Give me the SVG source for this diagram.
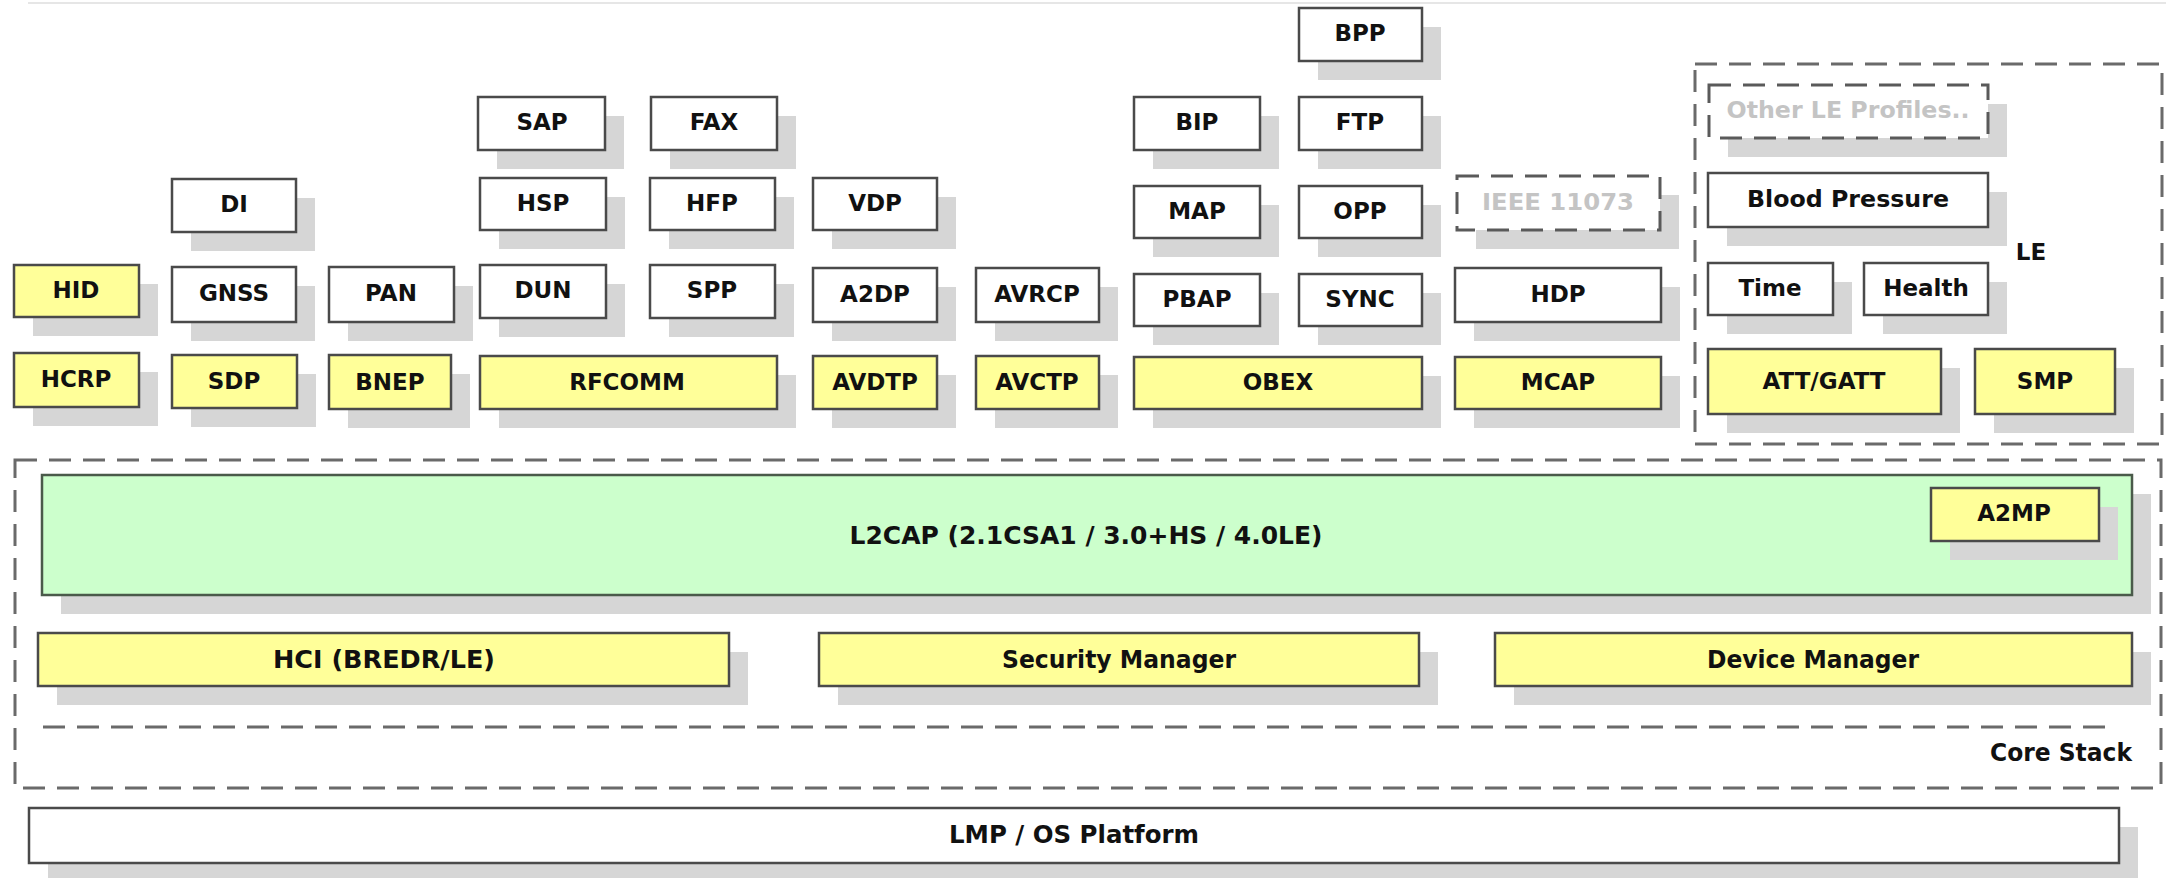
<svg xmlns="http://www.w3.org/2000/svg" width="2166" height="878" viewBox="0 0 2166 878">
  <style>
    .sh { fill: #d6d6d6; }
    .y { fill: #ffff99; stroke: #4a4a4a; stroke-width: 2.5; }
    .w { fill: #ffffff; stroke: #4a4a4a; stroke-width: 2.5; }
    .g { fill: #ccffcc; stroke: #4a5a4a; stroke-width: 2.5; }
    .dw { fill: #ffffff; stroke: #5a5a5a; stroke-width: 3; stroke-dasharray: 22 12; }
    .frame { fill: none; stroke: #6a6a6a; stroke-width: 3; stroke-dasharray: 22 12; }
    .t { font-family: "DejaVu Sans", Verdana, sans-serif; font-weight: bold; font-size: 23px; fill: #111111; text-anchor: middle; }
    .tl { font-family: "DejaVu Sans", Verdana, sans-serif; font-weight: bold; font-size: 24px; fill: #111111; text-anchor: middle; }
    .tg { font-family: "DejaVu Sans", Verdana, sans-serif; font-weight: bold; font-size: 23px; fill: #c4c4c4; text-anchor: middle; }
  </style>

  <rect width="2166" height="878" fill="#ffffff"/>
  <line x1="28" y1="3" x2="2166" y2="3" stroke="#e6e6e6" stroke-width="2"/>

  <!-- dashed groupings -->
  <g id="le-frame">
    <rect class="frame" x="1695" y="64" width="467" height="380"/>
    <text class="t" x="2031" y="260">LE</text>
  </g>
  <g id="core-stack-frame">
    <rect class="frame" x="15" y="460" width="2146" height="328"/>
    <line class="frame" x1="43" y1="727" x2="2110" y2="727"/>
    <text class="tl" x="2132" y="761" style="text-anchor:end" textLength="142" lengthAdjust="spacingAndGlyphs">Core Stack</text>
  </g>

  <!-- profiles and protocols -->
  <g id="hid"><rect class="sh" x="33" y="284" width="125" height="52"/><rect class="y" x="14" y="265" width="125" height="52"/><text class="t" x="76" y="298">HID</text></g>
  <g id="hcrp"><rect class="sh" x="33" y="372" width="125" height="54"/><rect class="y" x="14" y="353" width="125" height="54"/><text class="t" x="76" y="387">HCRP</text></g>
  <g id="di"><rect class="sh" x="191" y="198" width="124" height="53"/><rect class="w" x="172" y="179" width="124" height="53"/><text class="t" x="234" y="212">DI</text></g>
  <g id="gnss"><rect class="sh" x="191" y="286" width="124" height="55"/><rect class="w" x="172" y="267" width="124" height="55"/><text class="t" x="234" y="301">GNSS</text></g>
  <g id="sdp"><rect class="sh" x="191" y="374" width="125" height="53"/><rect class="y" x="172" y="355" width="125" height="53"/><text class="t" x="234" y="389">SDP</text></g>
  <g id="pan"><rect class="sh" x="348" y="286" width="125" height="55"/><rect class="w" x="329" y="267" width="125" height="55"/><text class="t" x="391" y="301">PAN</text></g>
  <g id="bnep"><rect class="sh" x="348" y="374" width="122" height="54"/><rect class="y" x="329" y="355" width="122" height="54"/><text class="t" x="390" y="390">BNEP</text></g>
  <g id="sap"><rect class="sh" x="497" y="116" width="127" height="53"/><rect class="w" x="478" y="97" width="127" height="53"/><text class="t" x="542" y="130">SAP</text></g>
  <g id="hsp"><rect class="sh" x="499" y="197" width="126" height="52"/><rect class="w" x="480" y="178" width="126" height="52"/><text class="t" x="543" y="211">HSP</text></g>
  <g id="dun"><rect class="sh" x="499" y="284" width="126" height="53"/><rect class="w" x="480" y="265" width="126" height="53"/><text class="t" x="543" y="298">DUN</text></g>
  <g id="fax"><rect class="sh" x="670" y="116" width="126" height="53"/><rect class="w" x="651" y="97" width="126" height="53"/><text class="t" x="714" y="130">FAX</text></g>
  <g id="hfp"><rect class="sh" x="669" y="197" width="125" height="52"/><rect class="w" x="650" y="178" width="125" height="52"/><text class="t" x="712" y="211">HFP</text></g>
  <g id="spp"><rect class="sh" x="669" y="284" width="125" height="53"/><rect class="w" x="650" y="265" width="125" height="53"/><text class="t" x="712" y="298">SPP</text></g>
  <g id="rfcomm"><rect class="sh" x="499" y="375" width="297" height="53"/><rect class="y" x="480" y="356" width="297" height="53"/><text class="t" x="627" y="390">RFCOMM</text></g>
  <g id="vdp"><rect class="sh" x="832" y="197" width="124" height="52"/><rect class="w" x="813" y="178" width="124" height="52"/><text class="t" x="875" y="211">VDP</text></g>
  <g id="a2dp"><rect class="sh" x="832" y="287" width="124" height="54"/><rect class="w" x="813" y="268" width="124" height="54"/><text class="t" x="875" y="302">A2DP</text></g>
  <g id="avdtp"><rect class="sh" x="832" y="375" width="124" height="53"/><rect class="y" x="813" y="356" width="124" height="53"/><text class="t" x="875" y="390">AVDTP</text></g>
  <g id="avrcp"><rect class="sh" x="995" y="287" width="123" height="54"/><rect class="w" x="976" y="268" width="123" height="54"/><text class="t" x="1037" y="302">AVRCP</text></g>
  <g id="avctp"><rect class="sh" x="995" y="375" width="123" height="53"/><rect class="y" x="976" y="356" width="123" height="53"/><text class="t" x="1037" y="390">AVCTP</text></g>
  <g id="bpp"><rect class="sh" x="1318" y="27" width="123" height="53"/><rect class="w" x="1299" y="8" width="123" height="53"/><text class="t" x="1360" y="41">BPP</text></g>
  <g id="bip"><rect class="sh" x="1153" y="116" width="126" height="53"/><rect class="w" x="1134" y="97" width="126" height="53"/><text class="t" x="1197" y="130">BIP</text></g>
  <g id="ftp"><rect class="sh" x="1318" y="116" width="123" height="53"/><rect class="w" x="1299" y="97" width="123" height="53"/><text class="t" x="1360" y="130">FTP</text></g>
  <g id="map"><rect class="sh" x="1153" y="205" width="126" height="52"/><rect class="w" x="1134" y="186" width="126" height="52"/><text class="t" x="1197" y="219">MAP</text></g>
  <g id="opp"><rect class="sh" x="1318" y="205" width="123" height="52"/><rect class="w" x="1299" y="186" width="123" height="52"/><text class="t" x="1360" y="219">OPP</text></g>
  <g id="pbap"><rect class="sh" x="1153" y="293" width="126" height="52"/><rect class="w" x="1134" y="274" width="126" height="52"/><text class="t" x="1197" y="307">PBAP</text></g>
  <g id="sync"><rect class="sh" x="1318" y="293" width="123" height="52"/><rect class="w" x="1299" y="274" width="123" height="52"/><text class="t" x="1360" y="307">SYNC</text></g>
  <g id="obex"><rect class="sh" x="1153" y="376" width="288" height="52"/><rect class="y" x="1134" y="357" width="288" height="52"/><text class="t" x="1278" y="390">OBEX</text></g>
  <g id="ieee11073"><rect class="sh" x="1476" y="195" width="203" height="54"/><rect class="dw" x="1457" y="176" width="203" height="54"/><text class="tg" x="1558" y="210" textLength="152" lengthAdjust="spacingAndGlyphs">IEEE 11073</text></g>
  <g id="hdp"><rect class="sh" x="1474" y="287" width="206" height="54"/><rect class="w" x="1455" y="268" width="206" height="54"/><text class="t" x="1558" y="302">HDP</text></g>
  <g id="mcap"><rect class="sh" x="1474" y="376" width="206" height="52"/><rect class="y" x="1455" y="357" width="206" height="52"/><text class="t" x="1558" y="390">MCAP</text></g>
  <g id="other-le-profiles"><rect class="sh" x="1728" y="104" width="279" height="53"/><rect class="dw" x="1709" y="85" width="279" height="53"/><text class="tg" x="1848" y="118" textLength="243" lengthAdjust="spacingAndGlyphs">Other LE Profiles..</text></g>
  <g id="blood-pressure"><rect class="sh" x="1727" y="192" width="280" height="54"/><rect class="w" x="1708" y="173" width="280" height="54"/><text class="t" x="1848" y="207" textLength="202" lengthAdjust="spacingAndGlyphs">Blood Pressure</text></g>
  <g id="time"><rect class="sh" x="1727" y="282" width="125" height="52"/><rect class="w" x="1708" y="263" width="125" height="52"/><text class="t" x="1770" y="296">Time</text></g>
  <g id="health"><rect class="sh" x="1883" y="282" width="124" height="52"/><rect class="w" x="1864" y="263" width="124" height="52"/><text class="t" x="1926" y="296">Health</text></g>
  <g id="att-gatt"><rect class="sh" x="1727" y="368" width="233" height="65"/><rect class="y" x="1708" y="349" width="233" height="65"/><text class="t" x="1824" y="389">ATT/GATT</text></g>
  <g id="smp"><rect class="sh" x="1994" y="368" width="140" height="65"/><rect class="y" x="1975" y="349" width="140" height="65"/><text class="t" x="2045" y="389">SMP</text></g>

  <!-- core stack -->
  <g id="l2cap"><rect class="sh" x="61" y="494" width="2090" height="120"/><rect class="g" x="42" y="475" width="2090" height="120"/><text class="tl" x="1086" y="544" textLength="473" lengthAdjust="spacingAndGlyphs">L2CAP (2.1CSA1 / 3.0+HS / 4.0LE)</text></g>
  <g id="a2mp"><rect class="sh" x="1950" y="507" width="168" height="53"/><rect class="y" x="1931" y="488" width="168" height="53"/><text class="t" x="2014" y="521">A2MP</text></g>
  <g id="hci"><rect class="sh" x="57" y="652" width="691" height="53"/><rect class="y" x="38" y="633" width="691" height="53"/><text class="tl" x="384" y="668" textLength="222" lengthAdjust="spacingAndGlyphs">HCI (BREDR/LE)</text></g>
  <g id="security-manager"><rect class="sh" x="838" y="652" width="600" height="53"/><rect class="y" x="819" y="633" width="600" height="53"/><text class="tl" x="1119" y="668" textLength="234" lengthAdjust="spacingAndGlyphs">Security Manager</text></g>
  <g id="device-manager"><rect class="sh" x="1514" y="652" width="637" height="53"/><rect class="y" x="1495" y="633" width="637" height="53"/><text class="tl" x="1813" y="668" textLength="212" lengthAdjust="spacingAndGlyphs">Device Manager</text></g>

  <!-- platform -->
  <g id="lmp-os-platform"><rect class="sh" x="48" y="827" width="2090" height="55"/><rect class="w" x="29" y="808" width="2090" height="55"/><text class="tl" x="1074" y="843" textLength="250" lengthAdjust="spacingAndGlyphs">LMP / OS Platform</text></g>
</svg>
